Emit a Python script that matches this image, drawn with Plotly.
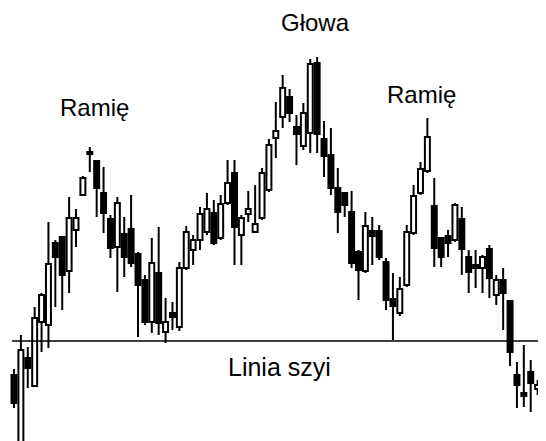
import plotly.graph_objects as go

# Candle values (price units)
opens = [66, -4, 83, 55, 119, 116, 198, 204, 170, 211, 246, 289, 280, 248, 222, 194, 207, 212, 187, 161,
         119, 168, 109, 128, 114, 173, 191, 201, 209, 228, 203, 238, 268, 206, 227, 209, 223, 251, 303, 324,
         344, 314, 295, 308, 378, 302, 286, 253, 248, 229, 189, 170, 210, 210, 179, 142, 128, 156, 208, 248,
         270, 235, 203, 205, 201, 222, 184, 176, 173, 192, 146, 161, 140, 66, 48, 69, 52, 53]
highs = [72, 106, 94, 134, 148, 219, 201, 204, 244, 232, 265, 294, 281, 274, 226, 244, 224, 246, 189, 166,
         203, 214, 143, 139, 179, 215, 206, 234, 248, 241, 246, 281, 281, 226, 250, 256, 273, 302, 339, 366,
         352, 326, 338, 382, 384, 320, 313, 273, 249, 250, 191, 229, 224, 216, 183, 168, 164, 216, 256, 279,
         323, 263, 203, 211, 238, 234, 191, 191, 186, 196, 166, 173, 140, 79, 96, 81, 61, 63]
lows = [33, -5, 53, 55, 89, 93, 134, 131, 148, 194, 245, 269, 224, 208, 183, 149, 164, 174, 104, 116,
        108, 106, 98, 111, 110, 171, 176, 191, 206, 196, 201, 236, 176, 176, 219, 208, 221, 249, 283, 313,
        319, 276, 291, 288, 288, 264, 246, 208, 224, 173, 141, 168, 176, 181, 131, 101, 125, 154, 206, 246,
        268, 174, 174, 184, 199, 166, 148, 153, 148, 143, 136, 111, 75, 33, 34, 29, 46, 15]
closes = [38, 91, 73, 123, 146, 177, 184, 166, 223, 223, 263, 287, 253, 228, 193, 238, 184, 178, 156, 119,
          178, 118, 119, 124, 173, 209, 201, 227, 232, 198, 237, 258, 214, 223, 232, 217, 268, 296, 310, 353,
          328, 307, 328, 377, 307, 285, 253, 229, 236, 178, 171, 215, 205, 184, 141, 135, 152, 209, 245, 272,
          304, 193, 184, 198, 236, 192, 169, 173, 184, 163, 161, 148, 89, 56, 45, 58, 56, 21]
days = list(range(len(opens)))

neckline_level = 100

labels = ["Ramię", "Głowa", "Ramię", "Linia szyi"]

# derived body / wick geometry from the OHLC arrays
body_lo = [min(o, c) for o, c in zip(opens, closes)]
body_hi = [max(o, c) for o, c in zip(opens, closes)]
body_len = [h - l for h, l in zip(body_hi, body_lo)]
rising = [c > o for o, c in zip(opens, closes)]

wick_x, wick_y = [], []
for d, h, l, bh, bl in zip(days, highs, lows, body_hi, body_lo):
    if h > bh:
        wick_x += [d, d, None]
        wick_y += [bh, h, None]
    if l < bl:
        wick_x += [d, d, None]
        wick_y += [l, bl, None]

fig = go.Figure()
fig.add_trace(go.Bar(
    x=days, y=body_len, base=body_lo, width=0.72,
    marker=dict(color=["white" if r else "black" for r in rising],
                line=dict(color="black", width=2)),
    showlegend=False, hoverinfo="skip",
))
fig.add_trace(go.Scatter(
    x=wick_x, y=wick_y, mode="lines",
    line=dict(color="black", width=2),
    showlegend=False, hoverinfo="skip",
))

# neckline
fig.add_trace(go.Scatter(
    x=[days[0] - 0.3, days[-1] + 0.3], y=[neckline_level, neckline_level],
    mode="lines", line=dict(color="black", width=1.6),
    showlegend=False, hoverinfo="skip",
))

# page has an 8px body margin: figure occupies page pixels 8..546 x 8..441
OFF = 8
W, H = 546 - OFF, 441 - OFF
label_pos = [(94, 107), (315, 23), (421, 95), (279, 367)]
sizes = [24, 24, 24, 25]
for txt, (px, py), fs in zip(labels, label_pos, sizes):
    fig.add_annotation(
        x=(px - OFF) / W, y=1 - (py - OFF) / H, xref="paper", yref="paper",
        text=txt, showarrow=False,
        font=dict(family="Liberation Sans, Arial, sans-serif", size=fs, color="black"),
        xanchor="center", yanchor="middle",
    )

step = 530.5 / 77
fig.update_layout(
    width=W, height=H,
    margin=dict(l=0, r=0, t=0, b=0),
    paper_bgcolor="white", plot_bgcolor="white",
    barmode="overlay",
    xaxis=dict(visible=False, range=[(OFF - 14) / step, (546 - 14) / step],
               showgrid=False, zeroline=False),
    yaxis=dict(visible=False, range=[0, H], showgrid=False, zeroline=False),
)

fig.write_html("out.html")
